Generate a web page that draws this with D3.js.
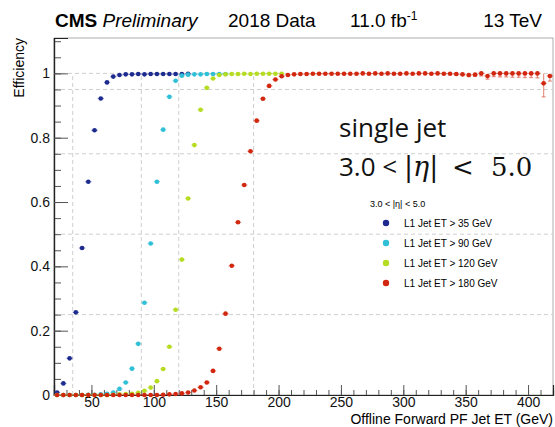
<!DOCTYPE html>
<html>
<head>
<meta charset="utf-8">
<script src="https://cdn.jsdelivr.net/npm/d3@7"></script>
<style>
    body { margin: 0; background: #fff; }
    svg { display: block; font-family: "Liberation Sans", Arial, Helvetica, sans-serif; }
</style>
</head>
<body>
<div class="eff"></div>
<script>
// binning of the offline jet ET histograms (GeV)
const binLow = 20;
const binWidth = 5;

// efficiency per bin, first bin centred at 22.5 GeV
const effJet35 = [0.008, 0.036, 0.114, 0.257, 0.457, 0.663, 0.823, 0.922, 0.972, 0.990,
    0.995, 0.997, 0.997, 0.998, 0.997, 0.998, 0.998, 0.998, 0.998, 0.998, 0.998, 0.999];

const effJet90 = [0, 0, 0, 0, 0, 0.001, 0.001, 0.002, 0.004, 0.008,
    0.019, 0.039, 0.082, 0.159, 0.287, 0.471, 0.663, 0.825, 0.927, 0.977,
    0.993, 0.996, 0.997, 0.997, 0.998, 0.998, 0.998, 0.998];

const effJet120 = [0, 0, 0, 0, 0, 0, 0, 0, 0, 0.001,
    0.002, 0.003, 0.004, 0.007, 0.013, 0.023, 0.043, 0.081, 0.150, 0.265,
    0.421, 0.611, 0.777, 0.887, 0.955, 0.984, 0.995, 0.997, 0.998, 0.998,
    0.999, 0.998, 0.999, 0.999, 0.999, 0.999, 0.999];

const effJet180 = [0, 0, 0, 0, 0, 0, 0, 0, 0, 0,
    0, 0, 0, 0, 0, 0, 0, 0.001, 0.002, 0.003,
    0.005, 0.008, 0.014, 0.024, 0.039, 0.075, 0.144, 0.253, 0.402, 0.537,
    0.653, 0.758, 0.853, 0.921, 0.961, 0.981, 0.991, 0.995, 0.997, 0.998,
    0.998, 0.999, 0.999, 0.999, 0.999, 0.999, 0.999, 0.999, 0.999, 1.0,
    0.999, 1.0, 0.999, 1.0, 0.999, 0.999, 1.0, 0.999, 1.0, 1.0,
    0.999, 1.0, 0.999, 0.999, 0.998, 0.997, 0.995, 0.996, 1.0, 0.992,
    1.0, 1.0, 1.0, 1.0, 1.0, 1.0, 1.0, 1.0, 0.969, 0.992];

// asymmetric errors of the last 16 bins of the 180 GeV curve
const errFromBin = 64;
const errLowJet180 = [0.003, 0.004, 0.005, 0.005, 0.008, 0.010, 0.010, 0.011,
    0.011, 0.012, 0.012, 0.013, 0.013, 0.014, 0.042, 0.016];
const errHighJet180 = [0.002, 0.002, 0.003, 0.003, 0, 0.005, 0, 0,
    0, 0, 0, 0, 0, 0, 0.031, 0.006];

const seriesNames = ["L1 Jet ET > 35 GeV", "L1 Jet ET > 90 GeV", "L1 Jet ET > 120 GeV", "L1 Jet ET > 180 GeV"];
const seriesColors = ["#1d2b8e", "#2fbfd6", "#b6dc22", "#d2270f"];
const thresholds = [35, 90, 120, 180];
const gridEff = [0.25, 0.5, 0.75, 0.95, 1.0];

const xMajor = [50, 100, 150, 200, 250, 300, 350, 400];
const xMinor = d3.range(20, 421, 10);
const yMajor = [0, 0.2, 0.4, 0.6, 0.8, 1];
const yMinor = d3.range(0, 1.101, 0.05);

function drawEff() {
    const width = 555;
    const height = 427;
    const margin = { top: 38, right: 2, bottom: 32, left: 54 };

    const series = [effJet35, effJet90, effJet120, effJet180].map((vals, k) => ({
        name: seriesNames[k],
        color: seriesColors[k],
        points: vals.map((v, i) => {
            const p = { et: binLow + binWidth * (i + 0.5), eff: v, lo: 0, hi: 0 };
            if (k === 3 && i >= errFromBin) {
                p.lo = errLowJet180[i - errFromBin];
                p.hi = errHighJet180[i - errFromBin];
            }
            return p;
        })
    }));

    const x = d3.scaleLinear()
        .domain([20, 420])
        .range([margin.left, width - margin.right]);
    const y = d3.scaleLinear()
        .domain([0, 1.11])
        .range([height - margin.bottom, margin.top]);

    const svg = d3.select(".eff")
        .append("svg")
        .attr("width", width)
        .attr("height", height);

    // frame
    svg.append("rect")
        .attr("x", x.range()[0])
        .attr("y", y.range()[1])
        .attr("width", x.range()[1] - x.range()[0])
        .attr("height", y.range()[0] - y.range()[1])
        .attr("fill", "none")
        .attr("stroke", "#9a9a9a")
        .attr("stroke-width", 0.8);

    // dashed guide lines
    const grid = svg.append("g")
        .attr("stroke", "#cfcfcf")
        .attr("stroke-width", 1)
        .attr("stroke-dasharray", "4,3");
    grid.selectAll("line.h")
        .data(gridEff)
        .enter()
        .append("line")
        .attr("x1", x.range()[0])
        .attr("x2", x.range()[1])
        .attr("y1", d => y(d))
        .attr("y2", d => y(d));
    grid.selectAll("line.v")
        .data(thresholds)
        .enter()
        .append("line")
        .attr("x1", d => x(d))
        .attr("x2", d => x(d))
        .attr("y1", y(0))
        .attr("y2", y(1));

    // axes, ticks pointing inside like ROOT
    const xAxisG = svg.append("g").attr("transform", `translate(0,${y(0)})`);
    xAxisG.append("g")
        .call(d3.axisBottom(x).tickValues(xMinor).tickSize(-5).tickFormat(""));
    xAxisG.append("g")
        .call(d3.axisBottom(x).tickValues(xMajor).tickSize(-10).tickPadding(2))
        .selectAll("text")
        .style("font-size", "14px")
        .attr("fill", "#111");

    const yAxisG = svg.append("g").attr("transform", `translate(${x(20)},0)`);
    yAxisG.append("g")
        .call(d3.axisLeft(y).tickValues(yMinor).tickSize(-7).tickFormat(""));
    yAxisG.append("g")
        .call(d3.axisLeft(y).tickValues(yMajor).tickSize(-14).tickPadding(4).tickFormat(d3.format("~g")))
        .selectAll("text")
        .style("font-size", "14px")
        .attr("fill", "#111");

    svg.selectAll(".domain").attr("stroke", "#222").attr("stroke-width", 1.2);
    svg.selectAll(".tick line").attr("stroke", "#555");

    // axis titles
    svg.append("text")
        .attr("x", x.range()[1])
        .attr("y", 424)
        .attr("text-anchor", "end")
        .style("font-size", "14px")
        .text("Offline Forward PF Jet ET (GeV)");
    svg.append("text")
        .attr("transform", `translate(24,${y.range()[1]}) rotate(-90)`)
        .attr("text-anchor", "end")
        .style("font-size", "14px")
        .text("Efficiency");

    // data points, later thresholds drawn on top
    series.forEach(s => {
        const g = svg.append("g");
        const pts = g.selectAll("g")
            .data(s.points)
            .enter()
            .append("g");
        pts.append("line")
            .attr("x1", d => x(d.et - binWidth / 2))
            .attr("x2", d => x(d.et + binWidth / 2))
            .attr("y1", d => y(d.eff))
            .attr("y2", d => y(d.eff))
            .attr("stroke", s.color)
            .attr("stroke-opacity", 0.45)
            .attr("stroke-width", 1.4);
        const withErr = pts.filter(d => d.lo > 0 || d.hi > 0);
        withErr.append("line")
            .attr("x1", d => x(d.et))
            .attr("x2", d => x(d.et))
            .attr("y1", d => y(d.eff - d.lo))
            .attr("y2", d => y(d.eff + d.hi))
            .attr("stroke", s.color)
            .attr("stroke-opacity", 0.5)
            .attr("stroke-width", 1.2);
        withErr.append("line")
            .attr("x1", d => x(d.et) - 2)
            .attr("x2", d => x(d.et) + 2)
            .attr("y1", d => y(d.eff - d.lo))
            .attr("y2", d => y(d.eff - d.lo))
            .attr("stroke", s.color)
            .attr("stroke-opacity", 0.5)
            .attr("stroke-width", 1.2);
        pts.append("circle")
            .attr("cx", d => x(d.et))
            .attr("cy", d => y(d.eff))
            .attr("r", 2.3)
            .attr("fill", s.color);
    });

    // legend
    const legend = svg.append("g").style("font-size", "10px");
    legend.append("text")
        .attr("x", 370)
        .attr("y", 207)
        .style("font-size", "9px")
        .text("3.0 < |η| < 5.0");
    const items = legend.selectAll("g.item")
        .data(series)
        .enter()
        .append("g")
        .attr("class", "item")
        .attr("transform", (d, i) => `translate(386,${223 + i * 20})`);
    items.append("circle")
        .attr("r", 3.2)
        .attr("fill", d => d.color);
    items.append("text")
        .attr("x", 18)
        .attr("dy", "0.35em")
        .text(d => d.name);

    // annotation
    const note = svg.append("g").style("font-family", "'Open Sans', sans-serif").style("font-size", "26px").attr("fill", "#111");
    note.append("text").attr("x", 339).attr("y", 137).text("single jet");
    const eta = note.append("text").attr("x", 339).attr("y", 176);
    eta.append("tspan").text("3.0 < ");
    const serif = "'DejaVu Serif', serif";
    eta.append("tspan").style("font-family", serif).style("font-size", "27px").text("|");
    eta.append("tspan").style("font-family", serif).style("font-size", "27px").style("font-style", "italic").text("η");
    eta.append("tspan").style("font-family", serif).style("font-size", "27px").text("|");
    eta.append("tspan").attr("x", 452).style("font-family", serif).text("<");
    eta.append("tspan").attr("x", 491).style("font-family", serif).text("5.0");

    // header
    const head = svg.append("g").style("font-size", "19px").attr("fill", "#000");
    const cms = head.append("text").attr("x", 55).attr("y", 27);
    cms.append("tspan").style("font-weight", "bold").text("CMS");
    cms.append("tspan").style("font-style", "italic").text(" Preliminary");
    head.append("text").attr("x", 228).attr("y", 27).text("2018 Data");
    const lumi = head.append("text").attr("x", 350).attr("y", 27);
    lumi.append("tspan").text("11.0 fb");
    lumi.append("tspan").attr("dy", -7).style("font-size", "12px").text("-1");
    head.append("text").attr("x", 542).attr("y", 27).attr("text-anchor", "end").text("13 TeV");
}

drawEff();
</script>
</body>
</html>
